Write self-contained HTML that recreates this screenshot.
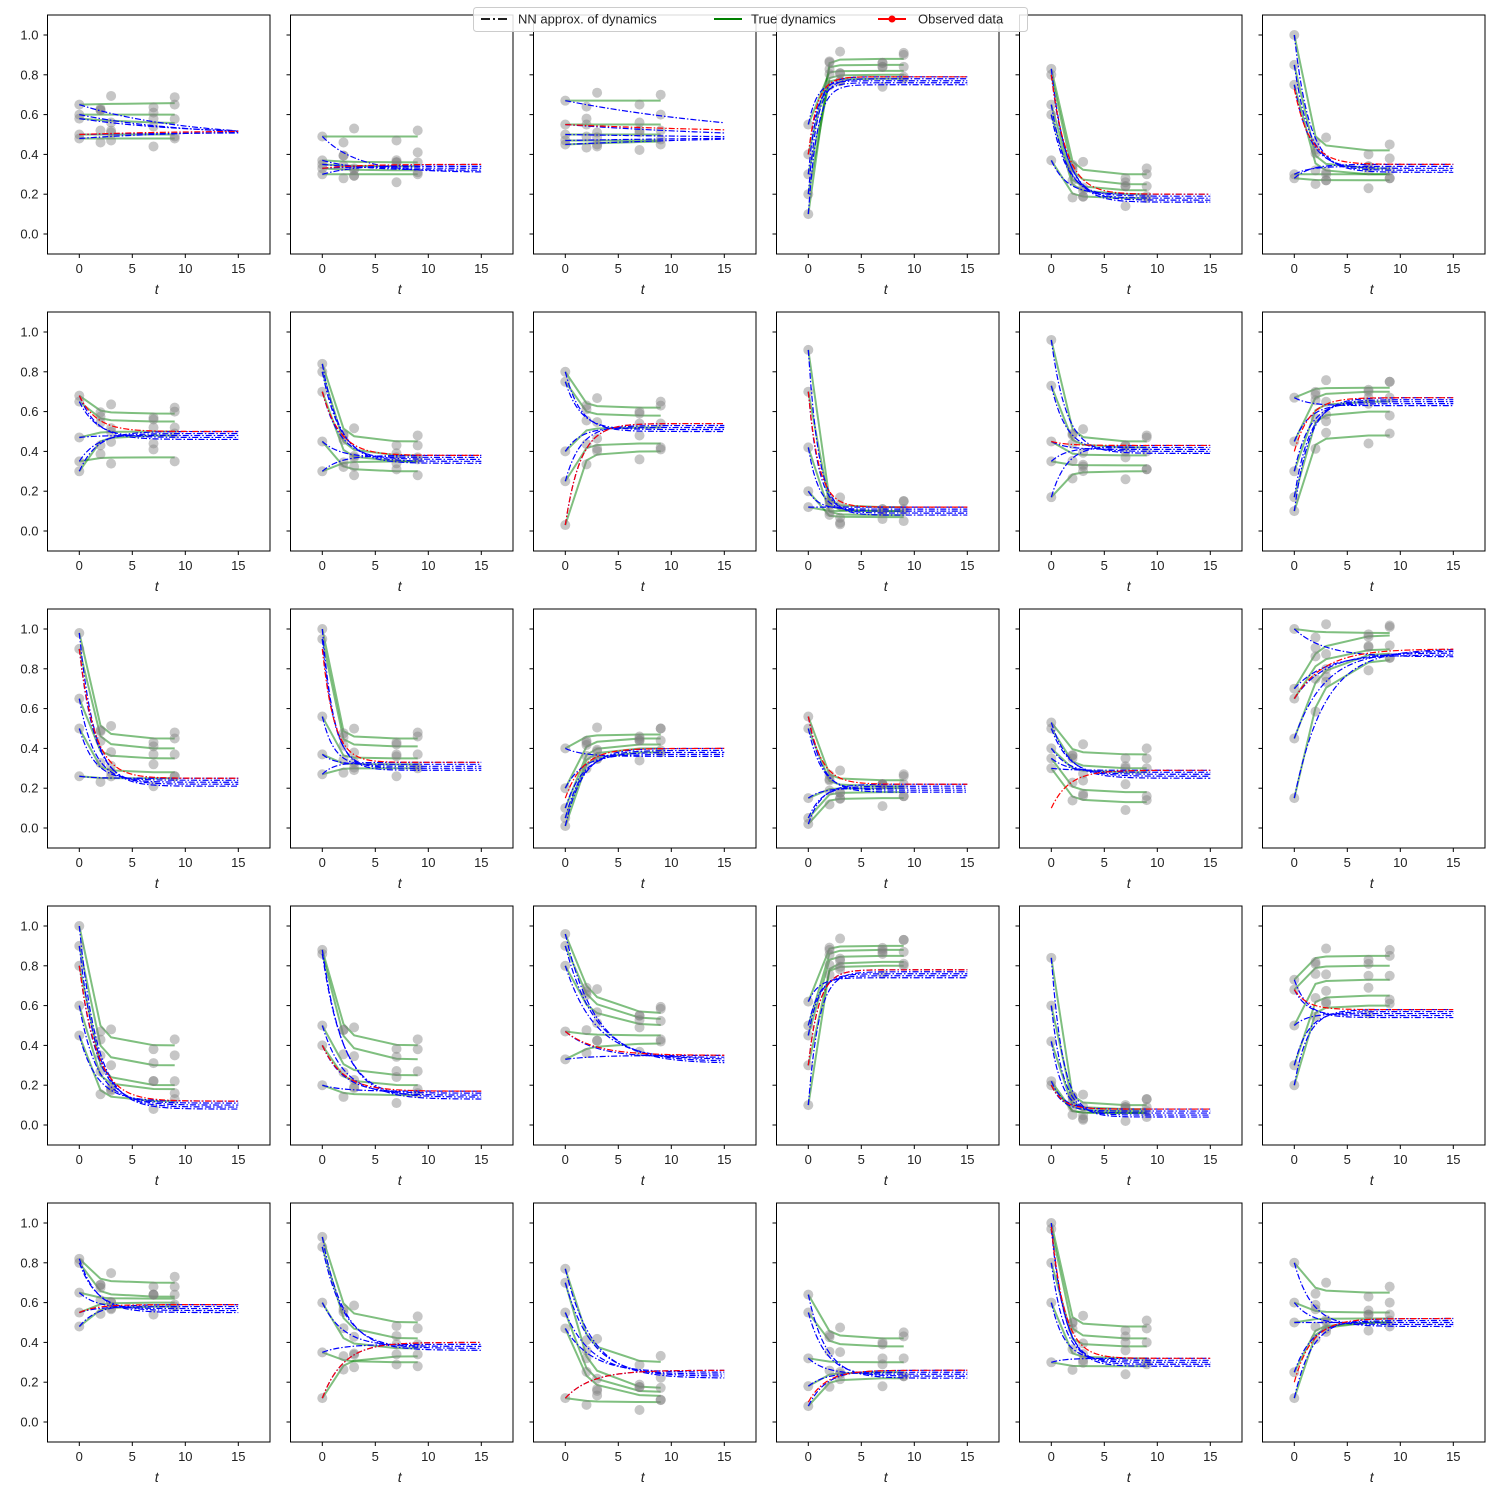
<!DOCTYPE html>
<html><head><meta charset="utf-8"><style>
html,body{margin:0;padding:0;background:#fff;}
svg{display:block;font-family:"Liberation Sans","DejaVu Sans",sans-serif;}
</style></head><body>
<svg id="chart" width="1500" height="1500" viewBox="0 0 1500 1500" xmlns="http://www.w3.org/2000/svg">
<rect width="1500" height="1500" fill="#fff"/>
</svg>
<script>
// Per-panel data
const eqValues = [0.5,0.33,0.48,0.77,0.18,0.33, 0.48,0.36,0.52,0.10,0.41,0.65, 0.23,0.31,0.38,0.20,0.27,0.88, 0.10,0.15,0.33,0.76,0.06,0.56, 0.57,0.38,0.24,0.24,0.30,0.50];
const rates = [0.1,0.3,0.05,1.2,0.7,0.7, 0.6,0.6,0.7,1.0,0.7,0.7, 0.7,0.9,0.6,0.8,0.6,0.35, 0.6,0.5,0.35,1.0,0.9,0.8, 0.6,0.5,0.4,0.6,0.8,0.6];
const startValues = [
[.65,.6,.58,.5,.48],[.49,.37,.35,.33,.3],[.67,.55,.5,.47,.45],[.1,.4,.55,.2,.3],[.83,.8,.65,.6,.37],[1.0,.85,.75,.3,.28],
[.68,.65,.47,.35,.3],[.84,.8,.7,.45,.3],[.8,.75,.4,.25,.03],[.91,.7,.42,.2,.12],[.96,.73,.45,.35,.17],[.67,.45,.3,.17,.1],
[.98,.9,.65,.5,.26],[1.0,.95,.56,.37,.27],[.4,.2,.1,.05,.01],[.56,.5,.15,.05,.02],[.53,.5,.4,.35,.3],[1.0,.7,.65,.45,.15],
[1.0,.9,.8,.6,.45],[.88,.86,.5,.4,.2],[.96,.9,.8,.47,.33],[.62,.5,.45,.1,.3],[.84,.6,.42,.2,.22],[.73,.68,.5,.3,.2],
[.82,.8,.65,.55,.48],[.93,.88,.6,.35,.12],[.77,.7,.55,.47,.12],[.64,.55,.32,.18,.08],[1.0,.97,.8,.6,.3],[.8,.6,.5,.25,.12]];
const greenEnds = [
[.66,.6,.55,.5,.48],[.49,.36,.34,.32,.3],[.67,.55,.5,.47,.48],[.88,.85,.82,.8,.78],[.3,.25,.22,.2,.18],[.42,.33,.3,.3,.27],
[.59,.55,.5,.37,.48],[.45,.38,.35,.3,.35],[.62,.58,.52,.44,.4],[.12,.1,.08,.07,.1],[.45,.42,.38,.33,.3],[.72,.7,.65,.6,.48],
[.45,.4,.35,.28,.25],[.45,.41,.35,.32,.3],[.47,.45,.42,.4,.38],[.24,.21,.2,.18,.15],[.37,.3,.28,.18,.13],[.98,.97,.9,.88,.85],
[.4,.3,.2,.18,.12],[.4,.33,.25,.2,.15],[.56,.53,.5,.45,.41],[.9,.88,.85,.82,.8],[.1,.08,.07,.06,.06],[.85,.8,.73,.65,.6],
[.7,.63,.62,.6,.58],[.5,.42,.37,.3,.33],[.3,.17,.15,.13,.1],[.42,.38,.3,.25,.22],[.48,.42,.38,.32,.28],[.65,.55,.52,.5,.5]];
const redStarts = [.5,.33,.55,.4,.8,.73, .68,.7,.03,.7,.45,.4, .9,.9,.15,.56,.1,.65, .8,.4,.47,.3,.2,.68, .55,.12,.12,.1,.98,.2];
const obsTimes = [0,2,3,7,9];
const obsJitter = [0.02,-0.03,0.04,-0.02,0.03,-0.04,0.01,0.05,-0.05,0.02];
const blueOffsets = [-0.02,-0.01,0,0.01,0.02];
const xTicks = [0,5,10,15];
const yTicks = [0.0,0.2,0.4,0.6,0.8,1.0];

const NS="http://www.w3.org/2000/svg";
const svg=document.getElementById('chart');
function mk(tag,attrs,parent){const e=document.createElementNS(NS,tag);for(const k in attrs)e.setAttribute(k,attrs[k]);(parent||svg).appendChild(e);return e;}
const colL=[47.5,290.5,533.5,776.5,1019.5,1262.5], rowT=[15,312,609,906,1203];
const W=222.5,H=239;
function traj(y0,yinf,k,t){return yinf+(y0-yinf)*Math.exp(-k*t);}

for(let p=0;p<30;p++){
  const r=Math.floor(p/6),c=p%6;
  const L=colL[c],T=rowT[r];
  const sx=t=>L+31.8+(t)*(159/15);
  const sy=v=>T+219-(v)*199;
  const g=mk('g',{},svg);
  
  
  const clipId='clip'+p;
  const cp=mk('clipPath',{id:clipId},g);mk('rect',{x:L,y:T,width:W,height:H},cp);
  const plot=mk('g',{'clip-path':'url(#'+clipId+')'},g);
  const E=eqValues[p],k=rates[p];
  // green true dynamics
  startValues[p].forEach((s,i)=>{
    const ge=greenEnds[p][i];
    const pts=obsTimes.map(t=>sx(t)+','+sy(traj(s,ge,k*1.5,t))).join(' ');
    const pl=mk('polyline',{points:pts,fill:'none',stroke:'green','stroke-opacity':0.5,'stroke-width':2},plot);
    
    
  });
  // observed points
  startValues[p].forEach((s,i)=>{
    const ge=greenEnds[p][i];
    obsTimes.forEach((t,j)=>{
      const v=traj(s,ge,k*1.5,t)+(j===0?0:obsJitter[(i*3+j)%obsJitter.length]);
      const ci=mk('circle',{cx:sx(t),cy:sy(v),r:5,fill:'#808080','fill-opacity':0.45},plot);
      
      
    });
  });
  // blue NN approx
  startValues[p].forEach((s,i)=>{
    const pts=[];for(let t=0;t<=15;t+=0.25)pts.push(sx(t)+','+sy(traj(s,E+blueOffsets[i],k,t)));
    const pl=mk('polyline',{points:pts.join(' '),fill:'none',stroke:'blue','stroke-width':1.2,'stroke-dasharray':'6,2,1.5,2'},plot);
    
    
  });
  // red
  {const pts=[];for(let t=0;t<=15;t+=0.25)pts.push(sx(t)+','+sy(traj(redStarts[p],E+0.02,k,t)));
   const pl=mk('polyline',{points:pts.join(' '),fill:'none',stroke:'red','stroke-width':1.2,'stroke-dasharray':'6,2,1.5,2'},plot);
   
   }
  // frame
  mk('rect',{x:L,y:T,width:W,height:H,fill:'none',stroke:'#000','stroke-width':1},g);
  xTicks.forEach(t=>{
    mk('line',{x1:sx(t),x2:sx(t),y1:T+H,y2:T+H+4,stroke:'#000'},g);
    const tx=mk('text',{x:sx(t),y:T+H+19,'text-anchor':'middle','font-size':13,fill:'#222'},g);
    tx.textContent=t;
    
    
  });
  yTicks.forEach(v=>{
    mk('line',{x1:L-4,x2:L,y1:sy(v),y2:sy(v),stroke:'#000'},g);
    if(c===0){const tx=mk('text',{x:L-9,y:sy(v)+4.5,'text-anchor':'end','font-size':13,fill:'#222'},g);
      tx.textContent=v.toFixed(1);
      
      }
  });
  const xl=mk('text',{x:L+W/2-2,y:T+H+40,'text-anchor':'middle','font-size':14,'font-style':'italic',fill:'#222'},g);
  xl.textContent='t';
  
  
}
// legend
const lg=mk('g',{},svg);


mk('rect',{x:473.5,y:7.5,width:554,height:24,rx:3,fill:'#fff','fill-opacity':0.85,stroke:'#ccc'},lg);
mk('line',{x1:481,x2:509,y1:19,y2:19,stroke:'#000','stroke-width':1.8,'stroke-dasharray':'9,3,2,3'},lg);
let t1=mk('text',{x:518,y:23.5,'font-size':13,fill:'#222'},lg);t1.textContent='NN approx. of dynamics';

mk('line',{x1:714,x2:742,y1:19,y2:19,stroke:'green','stroke-width':2},lg);
let t2=mk('text',{x:751,y:23.5,'font-size':13,fill:'#222'},lg);t2.textContent='True dynamics';

mk('line',{x1:878,x2:906,y1:19,y2:19,stroke:'red','stroke-width':2},lg);
mk('circle',{cx:892,cy:19,r:3.5,fill:'red'},lg);
let t3=mk('text',{x:918,y:23.5,'font-size':13,fill:'#222'},lg);t3.textContent='Observed data';

</script>
</body></html>
